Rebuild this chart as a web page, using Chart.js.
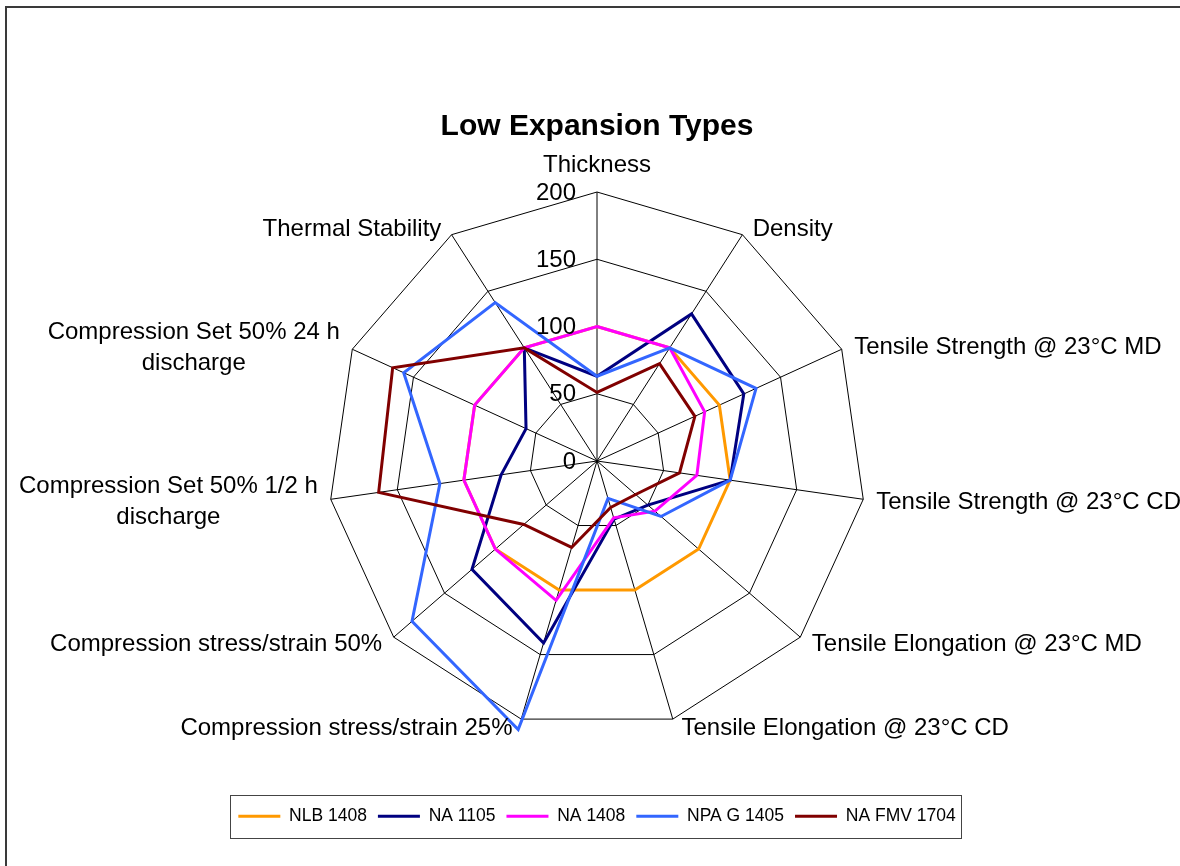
<!DOCTYPE html>
<html>
<head>
<meta charset="utf-8">
<title>Low Expansion Types</title>
<script src="https://cdn.jsdelivr.net/npm/chart.js@4.4.0/dist/chart.umd.min.js"></script>
<style>
  html, body { margin: 0; padding: 0; background: #fff; }
  #wrap { width: 1180px; height: 866px; overflow: hidden; }
</style>
</head>
<body>
<div id="wrap"><canvas id="radarChart" width="1180" height="866"></canvas></div>
<script>
// Axes, clockwise from the top
const categories = [
    'Thickness',
    'Density',
    'Tensile Strength @ 23°C MD',
    'Tensile Strength @ 23°C CD',
    'Tensile Elongation @ 23°C MD',
    'Tensile Elongation @ 23°C CD',
    'Compression stress/strain 25%',
    'Compression stress/strain 50%',
    ['Compression Set 50% 1/2 h', 'discharge'],
    ['Compression Set 50% 24 h', 'discharge'],
    'Thermal Stability'
];

// Series values
const nlb1408   = [100, 100, 100, 100, 100, 100, 100, 100, 100, 100, 100];
const na1105    = [63, 130, 120, 100, 50, 45, 141, 123, 72, 58, 100];
const na1408    = [100, 100, 88, 75, 57, 44, 108, 100, 100, 100, 100];
const npag1405  = [63, 100, 130, 100, 63, 29, 208, 182, 118, 158, 140];
const nafmv1704 = [51, 86, 80, 62, 38, 36, 67, 72, 164, 167, 100];

const seriesNames = ['NLB 1408', 'NA 1105', 'NA 1408', 'NPA G 1405', 'NA FMV 1704'];
const seriesData = [nlb1408, na1105, na1408, npag1405, nafmv1704];
const seriesColors = ['#FF9900', '#000080', '#FF00FF', '#3366FF', '#800000'];

// Radial tick labels
const tickValues = [0, 50, 100, 150, 200];

const FONT = "'Liberation Sans', Arial, Helvetica, sans-serif";

// Tick labels, point labels, legend frame and outer border
const decorations = {
    id: 'decorations',
    afterDraw(chart) {
        const ctx = chart.ctx;
        const r = chart.scales.r;
        const R = r.drawingArea;
        ctx.save();
        ctx.fillStyle = '#000';
        ctx.font = `24px ${FONT}`;

        // tick labels sit left of the vertical axis
        ctx.textAlign = 'right';
        ctx.textBaseline = 'middle';
        tickValues.forEach(v => {
            const d = r.getDistanceFromCenterForValue(v);
            ctx.fillText(String(v), r.xCenter - 21, r.yCenter - d + 1);
        });

        // point labels
        chart.data.labels.forEach((label, i) => {
            const p = r.getPointPosition(i, R);
            const dx = (p.x - r.xCenter) / R;
            const dy = (p.y - r.yCenter) / R;
            const lines = Array.isArray(label) ? label : [label];
            const lineH = 31;
            let x, y, align;
            if (Math.abs(dx) < 0.05) {
                x = p.x; y = p.y - 27; align = 'center';
            } else {
                const gap = 7 + 6 * Math.abs(dx);
                x = p.x + (dx > 0 ? gap : -gap);
                y = p.y + 1.5 + 8 * dy;
                align = dx > 0 ? 'left' : 'right';
            }
            const maxW = Math.max(...lines.map(t => ctx.measureText(t).width));
            const cx = align === 'center' ? x : (align === 'left' ? x + maxW / 2 : x - maxW / 2);
            ctx.textAlign = 'center';
            lines.forEach((t, k) => {
                ctx.fillText(t, cx, y + (k - (lines.length - 1) / 2) * lineH);
            });
        });

        // frame round the legend
        const hb = chart.legend.legendHitBoxes;
        if (hb && hb.length) {
            const last = hb[hb.length - 1];
            const left = Math.round(hb[0].left - 8) + 0.5;
            const right = Math.round(last.left + last.width + 5) + 0.5;
            const cy = hb[0].top + hb[0].height / 2;
            const top = Math.round(cy - 21) + 0.5;
            ctx.strokeStyle = '#444';
            ctx.lineWidth = 1;
            ctx.strokeRect(left, top, right - left, 43);
        }

        // outer chart border (runs off the right and bottom)
        ctx.strokeStyle = '#3a3a3a';
        ctx.lineWidth = 2;
        ctx.strokeRect(6, 7, 1400, 1000);
        ctx.restore();
    }
};

const datasets = seriesNames.map((name, i) => ({
    label: name,
    data: seriesData[i],
    borderColor: seriesColors[i],
    backgroundColor: seriesColors[i],
    pointBorderColor: seriesColors[i],
    pointBorderWidth: 3,
    borderWidth: 3,
    pointRadius: 0,
    pointHoverRadius: 0,
    fill: false,
    tension: 0,
    clip: false,
    order: seriesNames.length - i // later series on top
}));

const chart = new Chart(document.getElementById('radarChart'), {
    type: 'radar',
    data: { labels: categories, datasets: datasets },
    options: {
        responsive: false,
        animation: false,
        events: [],
        layout: { padding: { left: 14, right: 0, top: 0, bottom: 31 } },
        scales: {
            r: {
                min: 0,
                max: 200,
                ticks: { stepSize: 50, display: false },
                grid: { color: '#000', lineWidth: 1, circular: false },
                angleLines: { color: '#000', lineWidth: 1 },
                pointLabels: { display: false }
            }
        },
        plugins: {
            tooltip: { enabled: false },
            title: {
                display: true,
                text: 'Low Expansion Types',
                color: '#000',
                font: { family: FONT, size: 30, weight: 'bold' },
                padding: { top: 109, bottom: 47 }
            },
            legend: {
                position: 'bottom',
                title: { display: true, text: '', font: { size: 12 }, padding: 26 },
                labels: {
                    usePointStyle: true,
                    pointStyle: 'line',
                    pointStyleWidth: 42,
                    color: '#000',
                    padding: 11,
                    font: { family: FONT, size: 17.5 },
                    sort: (a, b) => a.datasetIndex - b.datasetIndex
                }
            }
        }
    },
    plugins: [decorations]
});
</script>
</body>
</html>
